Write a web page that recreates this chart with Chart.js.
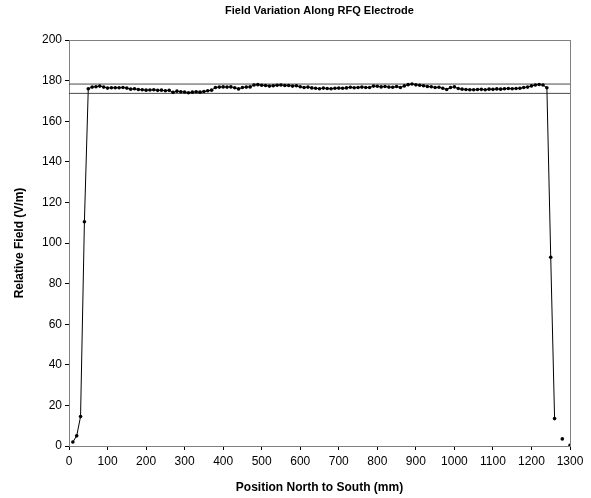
<!DOCTYPE html>
<html>
<head>
<meta charset="utf-8">
<script src="https://cdn.jsdelivr.net/npm/chart.js@4.4.0/dist/chart.umd.min.js"></script>
<style>
  html, body { margin: 0; padding: 0; background: #fff; }
  #wrap { width: 591px; height: 498px; }
</style>
</head>
<body>
<div id="wrap"><canvas id="field-chart" width="591" height="498"></canvas></div>
<script>
"use strict"

// DATA

// probe positions (mm), null field = no reading (gap in the line)
const positions = [
  10, 20, 30, 40, 50, 60, 70, 80, 90, 100,
  110, 120, 130, 140, 150, 160, 170, 180, 190, 200,
  210, 220, 230, 240, 250, 260, 270, 280, 290, 300,
  310, 320, 330, 340, 350, 360, 370, 380, 390, 400,
  410, 420, 430, 440, 450, 460, 470, 480, 490, 500,
  510, 520, 530, 540, 550, 560, 570, 580, 590, 600,
  610, 620, 630, 640, 650, 660, 670, 680, 690, 700,
  710, 720, 730, 740, 750, 760, 770, 780, 790, 800,
  810, 820, 830, 840, 850, 860, 870, 880, 890, 900,
  910, 920, 930, 940, 950, 960, 970, 980, 990, 1000,
  1010, 1020, 1030, 1040, 1050, 1060, 1070, 1080, 1090, 1100,
  1110, 1120, 1130, 1140, 1150, 1160, 1170, 1180, 1190, 1200,
  1210, 1220, 1230, 1240, 1250, 1260, 1270, 1280, 1290, 1300
];

const fieldValues = [
  2.0, 5.0, 14.5, 110.5, 176.0, 176.8, 177.0, 177.3, 176.8, 176.3,
  176.5, 176.5, 176.5, 176.6, 176.3, 175.8, 176.0, 175.6, 175.5, 175.3,
  175.4, 175.5, 175.2, 175.3, 175.0, 175.2, 174.2, 174.8, 174.5, 174.4,
  174.0, 174.3, 174.5, 174.3, 174.6, 175.0, 175.3, 176.6, 176.8, 176.9,
  176.8, 176.9, 176.5, 175.9, 176.6, 176.8, 176.9, 177.8, 178.0, 177.7,
  177.6, 177.3, 177.5, 177.7, 177.8, 177.6, 177.6, 177.3, 177.5, 177.0,
  176.6, 176.8, 176.4, 176.2, 176.0, 176.3, 176.1, 176.0, 176.2, 176.3,
  176.2, 176.4, 176.7, 176.5, 176.6, 176.8, 176.6, 176.6, 177.3, 177.2,
  176.9, 177.1, 176.8, 176.7, 177.1, 176.6, 177.4, 178.0, 178.3, 177.9,
  177.7, 177.5, 177.1, 177.0, 176.6, 176.7, 176.2, 175.6, 176.6, 176.9,
  176.1, 175.8, 175.6, 175.5, 175.5, 175.6, 175.7, 175.5, 175.8, 175.7,
  175.9, 175.8, 176.0, 176.1, 176.0, 176.1, 176.2, 176.6, 176.8, 177.4,
  177.8, 178.1, 177.8, 176.5, 93.0, 13.5, null, 3.5, null, 0.3
];

// tolerance band lines
const bandPositions = [0, 1300];
const upperLimit = [178.3, 178.3];
const lowerLimit = [173.7, 173.7];

// axis ticks
const yTicks = [0, 20, 40, 60, 80, 100, 120, 140, 160, 180, 200];
const xTicks = [0, 100, 200, 300, 400, 500, 600, 700, 800, 900, 1000, 1100, 1200, 1300];

const chartTitle = 'Field Variation Along RFQ Electrode';

// helpers
function toPoints(xs, ys) {
  return xs.map(function (x, i) {
    return { x: x, y: ys[i] };
  });
}

const FONT = "Liberation Sans, Arial, sans-serif";

// gray frame around the plot area + title centred over the plot
const plotFrame = {
  id: 'plotFrame',
  beforeDatasetsDraw(chart) {
    const a = chart.chartArea;
    const ctx = chart.ctx;
    ctx.save();
    ctx.strokeStyle = '#808080';
    ctx.lineWidth = 1;
    ctx.strokeRect(Math.round(a.left) + 0.5, Math.round(a.top) + 0.5,
      Math.round(a.right - a.left), Math.round(a.bottom - a.top));
    ctx.restore();
  },
  afterDraw(chart) {
    const a = chart.chartArea;
    const ctx = chart.ctx;
    ctx.save();
    ctx.fillStyle = '#000';
    ctx.font = 'bold 11px ' + FONT;
    ctx.textAlign = 'center';
    ctx.textBaseline = 'middle';
    ctx.fillText(chartTitle, (a.left + a.right) / 2, 11);
    ctx.restore();
  }
};

// setup
const data = {
  datasets: [
    {
      label: 'Upper',
      data: toPoints(bandPositions, upperLimit),
      borderColor: '#4a4a4a',
      borderWidth: 1,
      pointRadius: 0,
      order: 2
    },
    {
      label: 'Lower',
      data: toPoints(bandPositions, lowerLimit),
      borderColor: '#4a4a4a',
      borderWidth: 1,
      pointRadius: 0,
      order: 2
    },
    {
      label: 'Relative Field',
      data: toPoints(positions, fieldValues),
      borderColor: '#000',
      backgroundColor: '#000',
      borderWidth: 1,
      pointRadius: 1.8,
      pointBorderWidth: 0,
      spanGaps: false,
      order: 1
    }
  ]
};

// config
const config = {
  type: 'line',
  data,
  options: {
    responsive: false,
    animation: false,
    layout: { padding: { left: 0, right: 21, top: 40, bottom: 0 } },
    plugins: {
      legend: { display: false },
      tooltip: { enabled: false },
      title: { display: false }
    },
    scales: {
      x: {
        type: 'linear',
        min: 0,
        max: 1300,
        afterFit(s) { s.height = 52; },
        afterBuildTicks(s) { s.ticks = xTicks.map(function (v) { return { value: v }; }); },
        border: { color: '#000', width: 1 },
        grid: { drawOnChartArea: false, color: '#000', tickLength: 4 },
        ticks: {
          color: '#000',
          padding: 4,
          maxRotation: 0,
          font: { family: FONT, size: 12 },
          callback: function (v) { return String(v); }
        },
        title: {
          display: true,
          text: 'Position North to South (mm)',
          color: '#000',
          font: { family: FONT, size: 12, weight: 'bold' },
          padding: { top: 0, bottom: 2.8 }
        }
      },
      y: {
        min: 0,
        max: 200,
        afterFit(s) { s.width = 69; },
        afterBuildTicks(s) { s.ticks = yTicks.map(function (v) { return { value: v }; }); },
        border: { color: '#000', width: 1 },
        grid: { drawOnChartArea: false, color: '#000', tickLength: 4 },
        ticks: {
          color: '#000',
          padding: 3,
          font: { family: FONT, size: 12 },
          callback: function (v) { return String(v); }
        },
        title: {
          display: true,
          text: 'Relative Field (V/m)',
          color: '#000',
          font: { family: FONT, size: 12, weight: 'bold' },
          padding: { top: 12.8, bottom: 0 }
        }
      }
    }
  },
  plugins: [plotFrame]
};

// render init block
const fieldChart = new Chart(
  document.getElementById('field-chart'),
  config
);
</script>
</body>
</html>
